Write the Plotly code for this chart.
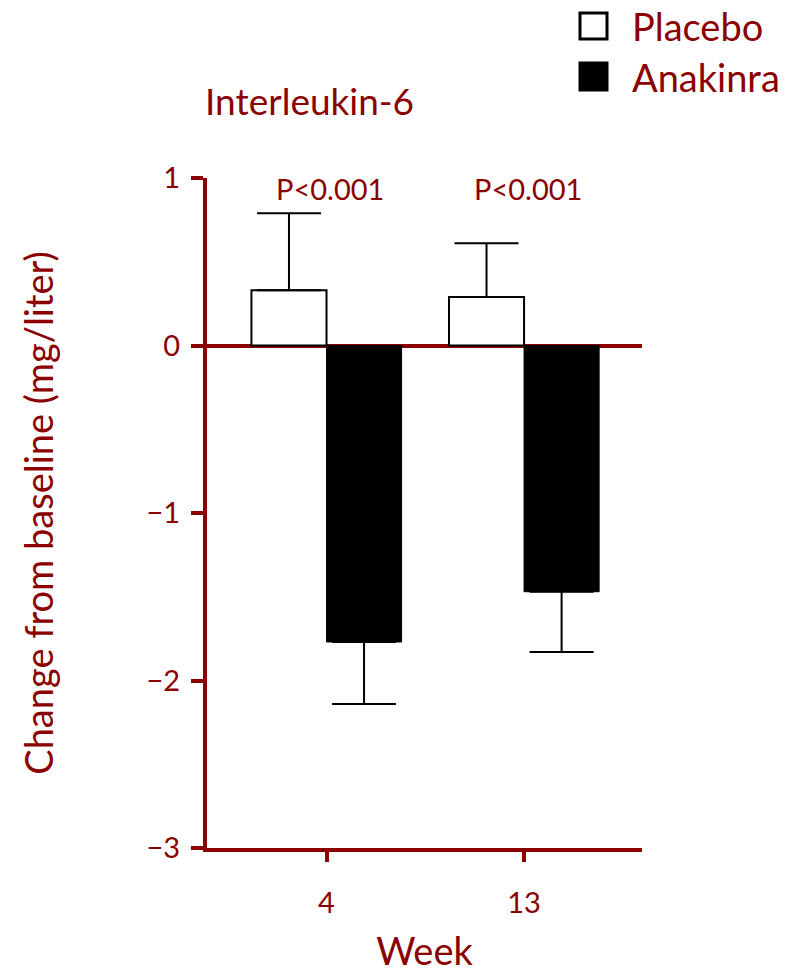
import plotly.graph_objects as go

weeks = ["4", "13"]
week_pos = [1, 2]
placebo = [0.33, 0.29]
placebo_err = [0.46, 0.32]
anakinra = [-1.77, -1.47]
anakinra_err = [0.37, 0.36]
p_labels = ["P<0.001", "P<0.001"]
y_ticks = [-3, -2, -1, 0, 1]
y_ticktext = ["\u22123", "\u22122", "\u22121", "0", "1"]

RED = "#8B0000"
FONT = "Lato"

# plot area in pixels
L, R, T, B = 207, 642, 178, 848
W, H = 791, 973

def px(x):
    return (x - L) / (R - L)

def py(y):
    return (B - y) / (B - T)

fig = go.Figure()
fig.add_trace(go.Bar(
    x=week_pos, y=placebo, offset=-0.38, width=0.38,
    marker=dict(color="white", line=dict(color="black", width=2)),
    error_y=dict(type="data", symmetric=False, array=placebo_err,
                 arrayminus=[0, 0], color="black", thickness=2, width=32),
    showlegend=False, name="Placebo"))
fig.add_trace(go.Bar(
    x=week_pos, y=anakinra, offset=0, width=0.38,
    marker=dict(color="black", line=dict(color="black", width=1)),
    error_y=dict(type="data", symmetric=False, array=[0, 0],
                 arrayminus=anakinra_err, color="black", thickness=2, width=32),
    showlegend=False, name="Anakinra"))

annotations = []
for xp, t in zip(week_pos, p_labels):
    annotations.append(dict(x=xp + 0.02, y=0.94, xref="x", yref="y", text=t,
                            showarrow=False, font=dict(size=29, color=RED, family=FONT)))

# legend (drawn manually)
shapes = []
for (y0, y1), fill, label in [((13, 39), "white", "Placebo"), ((63, 90), "black", "Anakinra")]:
    shapes.append(dict(type="rect", xref="paper", yref="paper",
                       x0=px(580), x1=px(607), y0=py(y1), y1=py(y0),
                       fillcolor=fill, line=dict(color="black", width=3)))
    annotations.append(dict(x=px(630), y=py((y0 + y1) / 2), xref="paper", yref="paper",
                            text=label, showarrow=False, xanchor="left", yanchor="middle",
                            font=dict(size=38, color=RED, family=FONT)))

annotations.append(dict(x=px(203), y=py(100), xref="paper", yref="paper",
                        text="Interleukin-6", showarrow=False, xanchor="left", yanchor="middle",
                        font=dict(size=37, color=RED, family=FONT)))

fig.update_layout(
    width=W, height=H,
    margin=dict(l=L, r=W - R, t=T, b=H - B),
    plot_bgcolor="white", paper_bgcolor="white",
    barmode="overlay",
    font=dict(family=FONT, color=RED),
    annotations=annotations, shapes=shapes,
    xaxis=dict(range=[0.395, 2.597], tickvals=week_pos, ticktext=weeks,
               automargin=False,
               showline=True, linecolor=RED, linewidth=4,
               ticks="outside", ticklen=10, tickwidth=4, tickcolor=RED,
               ticklabelstandoff=16,
               tickfont=dict(size=29, color=RED, family=FONT),
               showgrid=False, zeroline=False,
               title=dict(text="Week", font=dict(size=38, color=RED, family=FONT), standoff=24)),
    yaxis=dict(range=[-3, 1], tickvals=y_ticks, ticktext=y_ticktext,
               automargin=False,
               showline=True, linecolor=RED, linewidth=4,
               ticks="outside", ticklen=12, tickwidth=4, tickcolor=RED,
               ticklabelstandoff=5,
               tickfont=dict(size=29, color=RED, family=FONT),
               showgrid=False, zeroline=True, zerolinecolor=RED, zerolinewidth=4,
               title=dict(text="Change from baseline (mg/liter)",
                          font=dict(size=38, color=RED, family=FONT), standoff=82)),
)

fig.write_html("out.html")
